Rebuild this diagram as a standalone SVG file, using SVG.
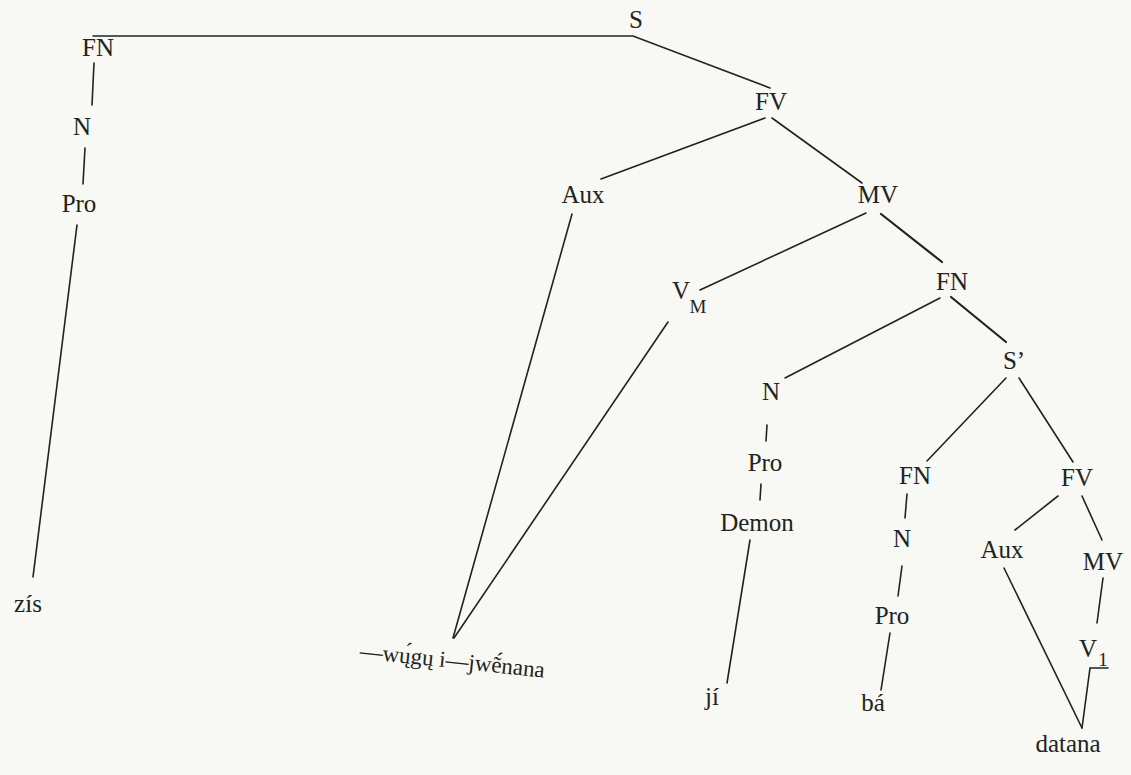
<svg xmlns="http://www.w3.org/2000/svg" width="1131" height="775" viewBox="0 0 1131 775">
<style>
.t{font-family:"Liberation Serif","Times New Roman",serif;font-size:25px;fill:#1e2420;text-anchor:middle}
.s{font-size:19px}
.w{font-size:23px}
.e{stroke:#1e2420;stroke-width:1.6;fill:none;stroke-linecap:round}
.b{stroke-width:2.2}
</style>
<rect width="1131" height="775" fill="#f8f8f4"/>
<g id="connectors">
<polyline class="e" points="93,36 633,36 770,88"/>
<line class="e" x1="94" y1="63" x2="92" y2="105"/>
<line class="e" x1="85" y1="148" x2="83" y2="184"/>
<line class="e" x1="77" y1="225" x2="33" y2="577"/>
<line class="e" x1="765" y1="118" x2="601" y2="179"/>
<line class="e" x1="772" y1="118" x2="862" y2="183"/>
<line class="e" x1="572" y1="214" x2="453" y2="638"/>
<line class="e" x1="866" y1="213" x2="700" y2="290"/>
<line class="e" x1="668" y1="322" x2="454" y2="638"/>
<line class="e b" x1="881" y1="214" x2="942" y2="262"/>
<line class="e" x1="940" y1="298" x2="785" y2="378"/>
<line class="e b" x1="951" y1="297" x2="1006" y2="342"/>
<line class="e" x1="1006" y1="378" x2="927" y2="461"/>
<line class="e" x1="1019" y1="378" x2="1073" y2="462"/>
<line class="e" x1="767" y1="425" x2="766" y2="441"/>
<line class="e" x1="761" y1="484" x2="760" y2="500"/>
<line class="e" x1="750" y1="540" x2="727" y2="683"/>
<line class="e" x1="907" y1="494" x2="905" y2="518"/>
<line class="e" x1="902" y1="566" x2="898" y2="596"/>
<line class="e" x1="890" y1="633" x2="881" y2="690"/>
<line class="e" x1="1058" y1="496" x2="1015" y2="530"/>
<line class="e" x1="1082" y1="496" x2="1102" y2="540"/>
<line class="e" x1="1004" y1="568" x2="1082" y2="728"/>
<line class="e" x1="1103" y1="578" x2="1097" y2="623"/>
<polyline class="e" points="1108,668 1090,668 1082,728"/>
</g>
<g id="n-S"><text class="t" x="636" y="28">S</text></g>
<g id="n-FN1"><text class="t" x="98" y="56">FN</text></g>
<g id="n-N1"><text class="t" x="82" y="135">N</text></g>
<g id="n-Pro1"><text class="t" x="79" y="212">Pro</text></g>
<g id="n-zis"><text class="t" x="28" y="612">zís</text></g>
<g id="n-FV1"><text class="t" x="771" y="110">FV</text></g>
<g id="n-Aux1"><text class="t" x="583" y="203">Aux</text></g>
<g id="n-MV1"><text class="t" x="878" y="203">MV</text></g>
<g id="n-VM"><text class="t" x="681" y="299">V</text><text class="t s" x="698" y="313">M</text></g>
<g id="n-FN2"><text class="t" x="952" y="290">FN</text></g>
<g id="n-Sp"><text class="t" x="1014" y="369">S’</text></g>
<g id="n-N3"><text class="t" x="771" y="400">N</text></g>
<g id="n-Pro3"><text class="t" x="765" y="471">Pro</text></g>
<g id="n-Demon"><text class="t" x="757" y="531">Demon</text></g>
<g id="n-ji"><text class="t" x="712" y="705">jí</text></g>
<g id="n-FN4"><text class="t" x="915" y="484">FN</text></g>
<g id="n-N4"><text class="t" x="902" y="547">N</text></g>
<g id="n-Pro4"><text class="t" x="892" y="624">Pro</text></g>
<g id="n-ba"><text class="t" x="873" y="711">bá</text></g>
<g id="n-FV4"><text class="t" x="1077" y="486">FV</text></g>
<g id="n-Aux4"><text class="t" x="1002" y="558">Aux</text></g>
<g id="n-MV4"><text class="t" x="1103" y="570">MV</text></g>
<g id="n-V1"><text class="t" x="1088" y="657">V</text><text class="t s" x="1103" y="666">1</text></g>
<g id="n-datana"><text class="t" x="1068" y="752">datana</text></g>
<g id="n-wugu"><text class="t w" x="452" y="668" transform="rotate(6 452 664)">—wų́gų i—jwẽ́nana</text></g>
</svg>
